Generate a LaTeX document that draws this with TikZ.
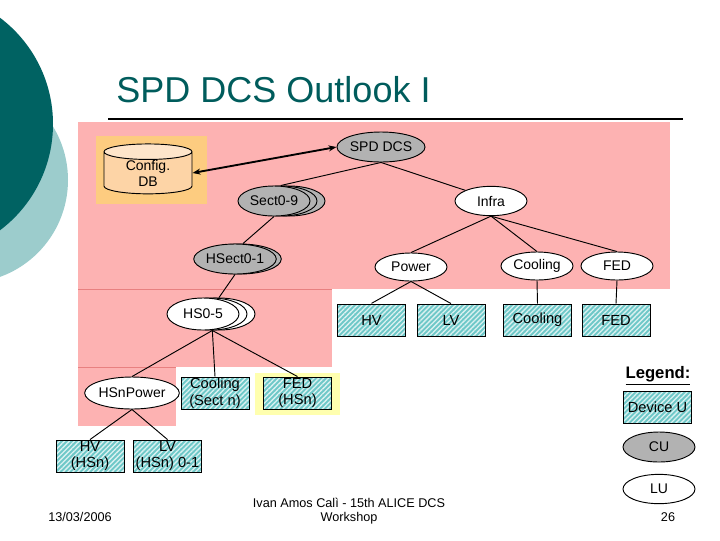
\documentclass[tikz,border=0pt]{standalone}
\usepackage{fontspec}
\setmainfont{Liberation Sans}
\usetikzlibrary{shapes.geometric,arrows.meta,patterns.meta,shadows}

\definecolor{tealdark}{RGB}{0,98,98}
\definecolor{teallight}{RGB}{156,204,204}
\definecolor{titleteal}{RGB}{0,92,92}
\definecolor{pinkarea}{RGB}{253,178,178}
\definecolor{pinkline}{RGB}{232,128,128}
\definecolor{orangebox}{RGB}{253,204,128}
\definecolor{peach}{RGB}{253,212,166}
\definecolor{cugray}{RGB}{178,178,178}
\definecolor{devteal}{RGB}{110,200,200}
\definecolor{glow}{RGB}{255,255,175}

\tikzset{
  lbl/.style={font=\fontsize{10.5}{12.6}\selectfont},
  cu/.style={ellipse, draw, fill=cugray, inner sep=0pt, minimum width=54pt, minimum height=22.5pt, lbl},
  lu/.style={ellipse, draw, fill=white, inner sep=0pt, minimum width=54pt, minimum height=22pt, lbl},
  devu/.style={rectangle, draw, preaction={fill=devteal},
    pattern={Lines[angle=45,distance=2.6pt,line width=1pt]}, pattern color=white!75!devteal,
    inner sep=0pt, minimum width=51pt, minimum height=24pt, align=center,
    font=\fontsize{11}{12.6}\selectfont},
  stack/.style={copy shadow={shadow xshift=#1, shadow yshift=0pt, fill=cugray, draw=black}},
  whitestack/.style={copy shadow={shadow xshift=#1, shadow yshift=0pt, fill=white, draw=black}}
}

\begin{document}
\begin{tikzpicture}[x=0.75pt,y=-0.75pt,line width=0.7pt]
\useasboundingbox (0,0) rectangle (720,540);
\clip (0,0) rectangle (720,540);

% background
\fill[teallight] (-35,180) circle[radius=77.25pt];
\fill[tealdark] (-80,124) circle[radius=99.75pt];
\node[anchor=base west, text=titleteal, inner sep=0pt, font=\fontsize{27}{30}\selectfont] (title) at (116,102) {SPD DCS Outlook I};
\draw[line width=1.6pt] (108,119) -- (683,119);

% areas
\fill[pinkarea] (78,122) rectangle (670,289);
\fill[pinkarea] (78,289) rectangle (332,367);
\fill[pinkarea] (78,367) rectangle (176,426);
\draw[pinkline, line width=0.5pt] (78,289) -- (332,289);
\draw[pinkline, line width=0.5pt] (78,367) -- (176,367);
\fill[orangebox] (96,136) rectangle (207,204);
\fill[glow] (255,373) rectangle (340,415);

% control and logical units
\node[cylinder, shape border rotate=90, aspect=0.35, draw, cylinder uses custom fill,
  cylinder body fill=peach, cylinder end fill=peach!60!white, inner sep=0pt,
  minimum width=66pt, minimum height=30pt, align=center,
  font=\fontsize{10.5}{12}\selectfont] (cfg) at (148,173) {Config.\\DB};
\node[cu] (spd) at (381,147) {SPD DCS};
\node[cu, stack=11.25pt, stack=5.25pt] (sect) at (274,201) {Sect0-9};
\node[lu] (infra) at (491,201) {Infra};
\node[cu, minimum width=56pt, stack=3.75pt] (hsect) at (235,259) {HSect0-1};
\node[lu, minimum height=21pt] (power) at (411,267) {Power};
\node[lu, minimum height=21pt] (cooling) at (537,266) {Cooling};
\node[lu, minimum height=21pt] (fed) at (617,266) {FED};
\node[lu, minimum height=24pt, whitestack=12pt, whitestack=6pt] (hs) at (203,314) {HS0-5};
\node[lu, minimum height=24pt] (hspow) at (132,393) {HSnPower};

% device units
\node[devu] (hv) at (371.5,320) {HV};
\node[devu] (lv) at (451,320) {LV};
\node[devu] (coolbox) at (537.5,320) {Cooling};
\node[devu] (fedbox) at (616,320) {FED};
\node[devu] (coolsect) at (215,393) {Cooling\\(Sect n)};
\node[devu] (fedhsn) at (297.5,393) {FED\\(HSn)};
\node[devu] (hvhsn) at (90,456) {HV\\(HSn)};
\node[devu] (lvhsn) at (167.5,456) {LV\\(HSn) 0-1};

% links
\draw[line width=1.4pt, {Stealth[length=6pt]}-{Stealth[length=6pt]}] (cfg.east) -- (spd.west);
\draw (spd.south) -- ([xshift=5pt]sect.north);
\draw (spd.south) -- (infra.north west);
\draw (sect.south) -- ([xshift=6pt]hsect.north);
\draw (hsect.south) -- ([xshift=12pt]hs.north);
\draw ([xshift=7pt]hs.south) -- (hspow.north);
\draw ([xshift=7pt]hs.south) -- (coolsect.north);
\draw ([xshift=7pt]hs.south) -- (fedhsn.north);
\draw (hspow.south) -- (hvhsn.north);
\draw (hspow.south) -- (lvhsn.north);
\draw (infra.south) -- (power.north);
\draw (infra.south) -- (cooling.north);
\draw (infra.south) -- (fed.north);
\draw (power.south) -- (hv.north);
\draw (power.south) -- (lv.north);
\draw (cooling.south) -- (coolbox.north);
\draw (fed.south) -- (fedbox.north);

% legend
\node[font=\fontsize{12.5}{15}\bfseries\selectfont] (legend) at (658,376) {\underline{Legend:}};
\node[devu] (legdev) at (657.5,407.5) {Device U};
\node[cu] (legcu) at (659,447) {CU};
\node[lu] (leglu) at (659,489) {LU};

% footer
\node[font=\fontsize{9.5}{11}\selectfont] (date) at (80,517) {13/03/2006};
\node[align=center, font=\fontsize{9.5}{10.5}\selectfont] (author) at (349,511) {Ivan Amos Calì - 15th ALICE DCS\\Workshop};
\node[font=\fontsize{9.5}{11}\selectfont] (page) at (668,517) {26};
\end{tikzpicture}
\end{document}
